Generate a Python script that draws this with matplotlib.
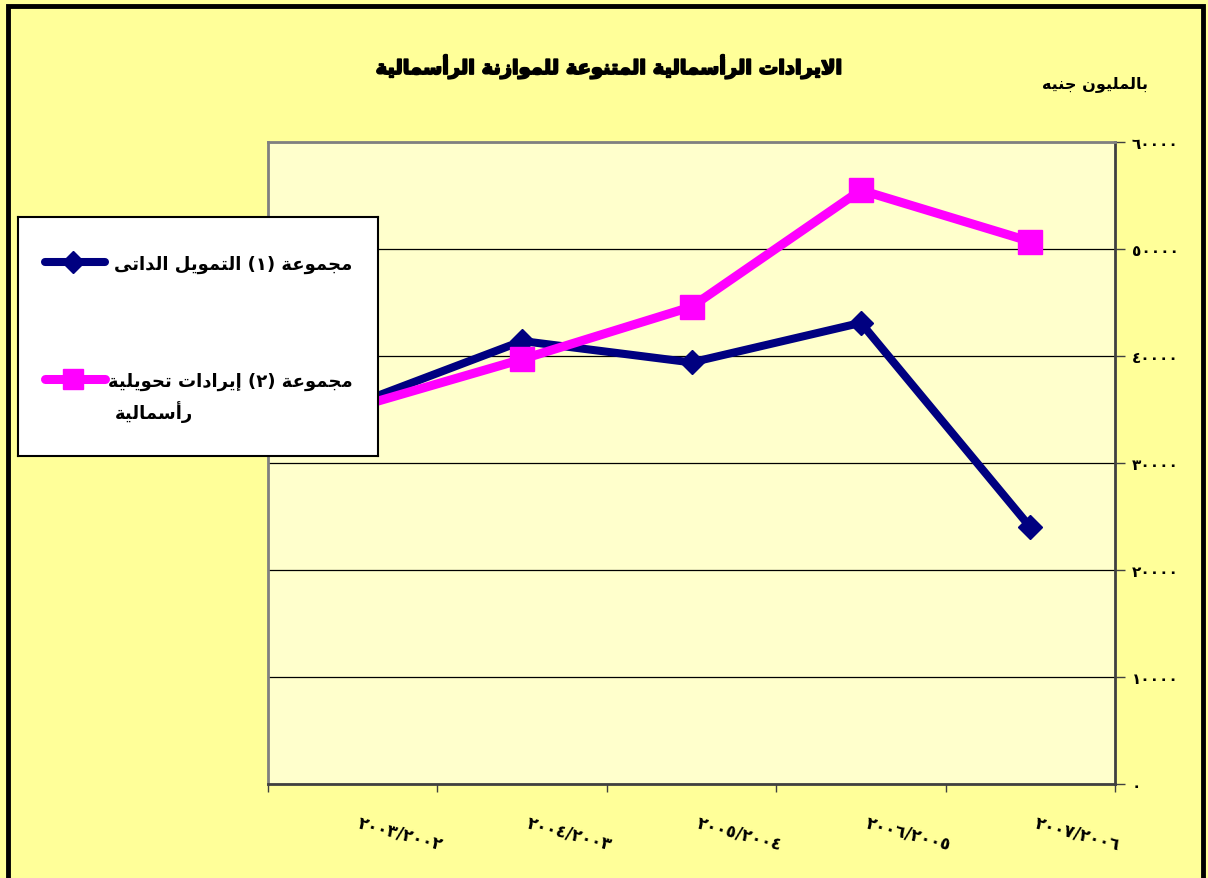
import matplotlib
matplotlib.use('Agg')
import matplotlib.pyplot as plt
import matplotlib.patheffects as pe
import matplotlib.transforms as mtransforms
from matplotlib.patches import Rectangle
from matplotlib.lines import Line2D

plt.rcParams['font.family'] = ['DejaVu Sans']
plt.rcParams['font.weight'] = 'bold'

# -- data
years = ['٢٠٠٣/٢٠٠٢', '٢٠٠٤/٢٠٠٣', '٢٠٠٥/٢٠٠٤', '٢٠٠٦/٢٠٠٥', '٢٠٠٧/٢٠٠٦']
self_finance = [35400, 41400, 39400, 43100, 24000]
capital_transfers = [35100, 39700, 44600, 55500, 50700]
y_ticks = [0, 10000, 20000, 30000, 40000, 50000, 60000]

title = 'الايرادات الرأسمالية المتنوعة للموازنة الرأسمالية'
unit_label = 'بالمليون جنيه'
label_1 = 'مجموعة (١) التمويل الداتى'
label_2a = 'مجموعة (٢) إيرادات تحويلية'
label_2b = 'رأسمالية'

# -- minimal arabic shaping (matplotlib has no complex text layout)
forms = {
    'ا': (0xFE8D, 0xFE8E, None, None), 'أ': (0xFE83, 0xFE84, None, None),
    'إ': (0xFE87, 0xFE88, None, None), 'ب': (0xFE8F, 0xFE90, 0xFE91, 0xFE92),
    'ة': (0xFE93, 0xFE94, None, None), 'ت': (0xFE95, 0xFE96, 0xFE97, 0xFE98),
    'ج': (0xFE9D, 0xFE9E, 0xFE9F, 0xFEA0), 'ح': (0xFEA1, 0xFEA2, 0xFEA3, 0xFEA4),
    'د': (0xFEA9, 0xFEAA, None, None), 'ر': (0xFEAD, 0xFEAE, None, None),
    'ز': (0xFEAF, 0xFEB0, None, None), 'س': (0xFEB1, 0xFEB2, 0xFEB3, 0xFEB4),
    'ع': (0xFEC9, 0xFECA, 0xFECB, 0xFECC), 'ل': (0xFEDD, 0xFEDE, 0xFEDF, 0xFEE0),
    'م': (0xFEE1, 0xFEE2, 0xFEE3, 0xFEE4), 'ن': (0xFEE5, 0xFEE6, 0xFEE7, 0xFEE8),
    'ه': (0xFEE9, 0xFEEA, 0xFEEB, 0xFEEC), 'و': (0xFEED, 0xFEEE, None, None),
    'ى': (0xFEEF, 0xFEF0, None, None), 'ي': (0xFEF1, 0xFEF2, 0xFEF3, 0xFEF4),
}
lam_alef = {'ا': (0xFEFB, 0xFEFC), 'أ': (0xFEF7, 0xFEF8), 'إ': (0xFEF9, 0xFEFA)}


def ar(text):
    out = []
    i = 0
    n = len(text)
    while i < n:
        c = text[i]
        if c not in forms:
            out.append(c)
            i += 1
            continue
        prev = text[i - 1] if i > 0 else ''
        joins_prev = prev in forms and forms[prev][2] is not None
        if c == 'ل' and i + 1 < n and text[i + 1] in lam_alef:
            iso, fin = lam_alef[text[i + 1]]
            out.append(chr(fin if joins_prev else iso))
            i += 2
            continue
        nxt = text[i + 1] if i + 1 < n else ''
        iso, fin, ini, med = forms[c]
        joins_next = ini is not None and nxt in forms
        if joins_prev and joins_next:
            g = med
        elif joins_next:
            g = ini
        elif joins_prev:
            g = fin
        else:
            g = iso
        out.append(chr(g))
        i += 1
    vis = ''.join(reversed(out))
    return vis.translate(str.maketrans('()', ')('))


def ar_digits(v):
    return str(v).translate(str.maketrans('0123456789', '٠١٢٣٤٥٦٧٨٩'))


W, H = 1208, 879
fig = plt.figure(figsize=(W / 100, H / 100), dpi=100, facecolor='#FFFF99')

# outer frame
fig.patches.append(Rectangle((8 / W, -0.05), 1195 / W, 1 - 7 / H + 0.05, transform=fig.transFigure,
                             fill=False, edgecolor='black', linewidth=3.5))

ax = fig.add_axes([268 / W, 1 - 785 / H, 847 / W, 642 / H])
ax.set_facecolor('#FFFFCC')
x = list(range(len(years)))

ax.plot(x, self_finance, color='#000080', lw=5.8, marker='D', ms=12, solid_joinstyle='miter', zorder=3)
ax.plot(x, capital_transfers, color='#FF00FF', lw=6.5, marker='s', ms=17, solid_joinstyle='miter', zorder=3)

ax.set_xlim(-0.5, len(years) - 0.5)
ax.set_ylim(0, 60000)
ax.set_yticks(y_ticks)
ax.set_yticklabels([ar_digits(v) for v in y_ticks], fontsize=11, fontweight='bold')
ax.yaxis.tick_right()
ax.tick_params(axis='y', direction='out', length=7, width=1, pad=5, color='#404040')
ax.grid(axis='y', color='black', linewidth=0.9)

ax.set_xticks([i - 0.5 for i in range(len(years) + 1)])
ax.set_xticklabels([])
ax.tick_params(axis='x', direction='out', length=6, width=1, color='#404040')
ax.set_xticks(x, minor=True)
ax.tick_params(axis='x', which='minor', length=0)
ax.set_xticklabels(years, minor=True, rotation=-15, ha='left', rotation_mode='anchor',
                   fontsize=12, fontweight='bold')
shift = mtransforms.ScaledTranslation(8 / 100, 0, fig.dpi_scale_trans)
for lab in ax.get_xticklabels(minor=True):
    lab.set_y(-0.038)
    lab.set_transform(lab.get_transform() + shift)

for side in ['left', 'top']:
    ax.spines[side].set_color('#808080')
    ax.spines[side].set_linewidth(2)
for side in ['right', 'bottom']:
    ax.spines[side].set_color('#404040')
    ax.spines[side].set_linewidth(2)

heavy = [pe.withStroke(linewidth=1.3, foreground='black')]
fig.text(610 / W, 1 - 68 / H, ar(title), ha='center', va='center', fontsize=14, fontweight='bold',
         path_effects=heavy)
fig.text(1095 / W, 1 - 84 / H, ar(unit_label), ha='center', va='center', fontsize=11.5, fontweight='bold')

# -- legend box
lax = fig.add_axes([18 / W, 1 - 457 / H, 360 / W, 239 / H])
lax.set_xlim(0, 360)
lax.set_ylim(239, 0)
lax.set_xticks([])
lax.set_yticks([])
lax.set_facecolor('white')
for s in lax.spines.values():
    s.set_color('black')
    s.set_linewidth(1.5)
lax.add_line(Line2D([27, 55, 87], [45, 45, 45], color='#000080', lw=5.8, marker='D', ms=11,
                    markevery=[1], solid_capstyle='round'))
lax.add_line(Line2D([27, 55, 87], [162, 162, 162], color='#FF00FF', lw=6.5, marker='s', ms=14,
                    markevery=[1], solid_capstyle='round'))
lax.text(96, 47, ar(label_1), ha='left', va='center', fontsize=13, fontweight='bold')
lax.text(90, 164, ar(label_2a), ha='left', va='center', fontsize=13, fontweight='bold')
lax.text(97, 194, ar(label_2b), ha='left', va='center', fontsize=13, fontweight='bold')

fig.savefig('out.png', dpi=100, facecolor=fig.get_facecolor())
